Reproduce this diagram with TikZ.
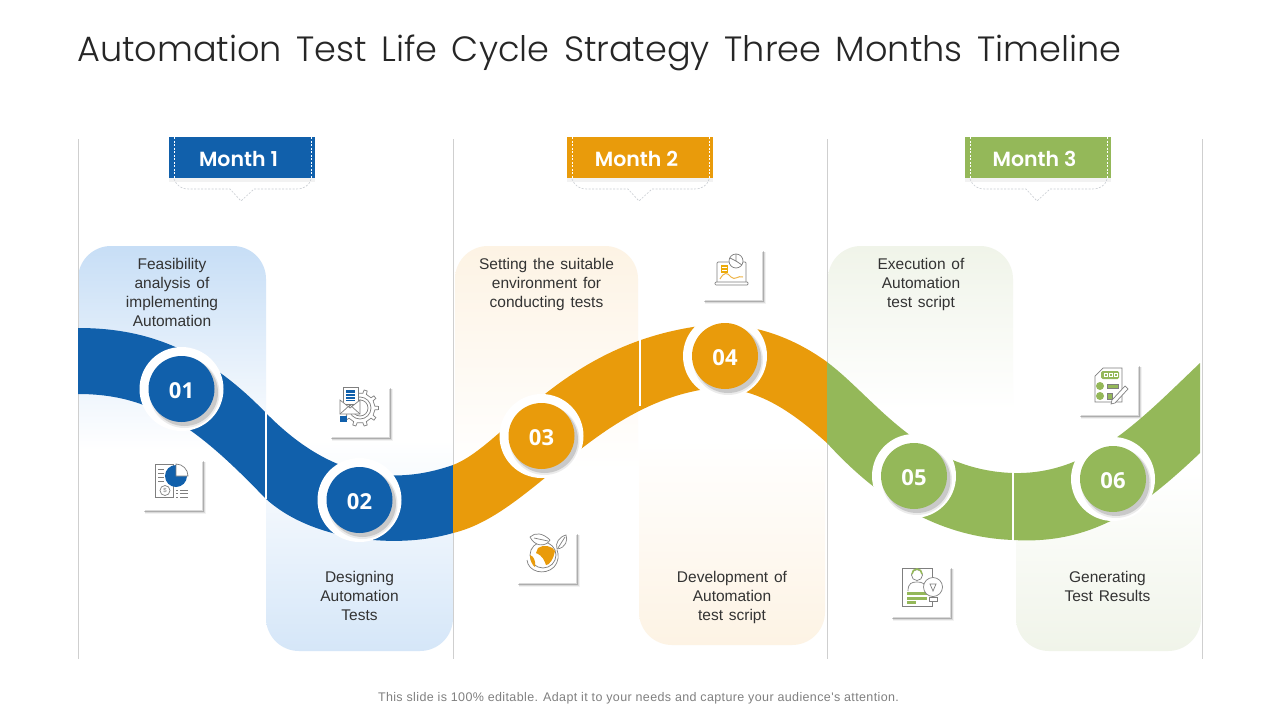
\documentclass[tikz,border=0pt]{standalone}
\usepackage{fontspec}
\setmainfont{Liberation Sans}[WordSpace=1.35]
\newfontfamily\titlefont{Poppins Light}[WordSpace=1.5]
\newfontfamily\monthfont{Poppins}[UprightFont=* SemiBold]
\newfontfamily\numfont{Open Sans}[UprightFont=* Bold]
\newfontfamily\footfont{Liberation Sans}[LetterSpace=3]
\definecolor{mblue}{HTML}{1160AB}
\definecolor{morange}{HTML}{E99B0B}
\definecolor{mgreen}{HTML}{94B859}
\definecolor{pblue}{HTML}{C7DEF6}
\definecolor{porange}{HTML}{FDF3E4}
\definecolor{pgreen}{HTML}{F0F4E9}
\definecolor{rulegray}{HTML}{CFCFCF}
\definecolor{icongray}{HTML}{7F7F7F}
\definecolor{bodytext}{HTML}{333333}
\definecolor{dashgray}{HTML}{C9CDD2}
\tikzset{
  paneltext/.style={align=center,text=bodytext,font=\fontsize{15.5}{19}\selectfont,inner sep=0pt},
  monthtext/.style={text=white,font=\monthfont\fontsize{20.5}{25}\selectfont,inner sep=0pt},
  numtext/.style={text=white,font=\numfont\fontsize{22}{26}\selectfont,inner sep=0pt},
  ic/.style={draw=icongray,line width=0.7pt},
  vrule/.style={draw=rulegray,line width=0.7pt},
  divider/.style={draw=white,line width=1.5pt}
}
\newcommand{\cardbox}[2]{%
  \begin{scope}[shift={(#1,#2)}]
    \fill[white] (0,0)--(50,0)--(60,10)--(60,61)--(0,61)--cycle;
    \draw[black,opacity=.05,line width=4pt] (2,62)--(61,62)--(61,12);
    \draw[black,opacity=.10,line width=2.5pt] (2,61.5)--(60.5,61.5)--(60.5,12);
    \draw[black,opacity=.20,line width=1pt] (1,61)--(60,61)--(60,11);
  \end{scope}}
\newcommand{\disc}[5]{%
  \fill[white] (#2,#3) circle (42);
  \fill[black,opacity=.08] (#2+3,#3+4) circle (35);
  \fill[black,opacity=.14] (#2+3,#3+3.5) circle (33.5);
  \fill[#4] (#2,#3) circle (33);
  \node[numtext] (#1) at (#2,#3+1.5) {#5};}
\newcommand{\monthtab}[4]{%
  \fill[black,opacity=.05] (#2,178) rectangle (#2+146,182);
  \node[fill=#3,minimum width=146pt,minimum height=41pt,inner sep=0pt,outer sep=0pt] (#1) at (#2+73,157.5) {};
  \draw[white,dashed,line width=.6pt,dash pattern=on 2pt off 1.5pt] (#2+5.5,137)--(#2+5.5,178);
  \draw[white,dashed,line width=.6pt,dash pattern=on 2pt off 1.5pt] (#2+142,137)--(#2+142,178);
  \draw[dashgray,line width=.6pt,dash pattern=on 2pt off 1.5pt]
    (#2+5,179) .. controls (#2+8,186) and (#2+12,189) .. (#2+20,189) -- (#2+61,189) -- (#2+72,201) -- (#2+85,189) -- (#2+127,189)
    .. controls (#2+135,189) and (#2+140,186) .. (#2+142,179);
  \node[monthtext] (#1t) at (#2+69.5,159) {#4};}
\begin{document}
\begin{tikzpicture}[x=1pt,y=-1pt]
\useasboundingbox (0,0) rectangle (1280,720);
\fill[white] (0,0) rectangle (1280,720);
% title
\node[anchor=west,inner sep=0pt,font=\titlefont\fontsize{35.1}{40}\selectfont,text=black!85] (title) at (77,53) {Automation Test Life Cycle Strategy Three Months Timeline};
% panels
\shade[top color=pblue,bottom color=white,rounded corners=33pt] (78,450)--(78,246)--(266,246)--(266,450);
\shade[top color=white,bottom color=pblue!75,rounded corners=33pt] (266,440)--(266,651)--(453,651)--(453,440);
\shade[top color=porange,bottom color=white,rounded corners=33pt] (455,470)--(455,246)--(638,246)--(638,470);
\shade[top color=white,bottom color=porange,rounded corners=33pt] (639,440)--(639,645)--(825,645)--(825,440);
\shade[top color=pgreen,bottom color=white,rounded corners=33pt] (828,410)--(828,246)--(1013,246)--(1013,410);
\shade[top color=white,bottom color=pgreen,rounded corners=33pt] (1016,470)--(1016,651)--(1201,651)--(1201,470);
% column rules
\foreach \n/\xx in {r1/78,r2/453,r3/827,r4/1202}{
  \coordinate (\n a) at (\xx,139); \coordinate (\n b) at (\xx,659);
  \draw[vrule] (\n a)--(\n b);}
% ribbons
\fill[mblue] (78,328) .. controls (140,328) and (200,345) .. (265,412) .. controls (310,458) and (370,494) .. (453,465)
  -- (453,533) .. controls (395,550) and (310,540) .. (265,498) .. controls (195,425) and (150,394) .. (78,394) -- cycle;
\fill[morange] (453,465) .. controls (505,445) and (560,345) .. (700,326) .. controls (745,320) and (790,335) .. (827,362)
  -- (827,443) .. controls (790,410) and (750,381) .. (700,390) .. controls (590,410) and (530,515) .. (453,533) -- cycle;
\fill[mgreen] (827,362) .. controls (875,398) and (920,470) .. (1013,473) .. controls (1090,475) and (1140,420) .. (1200,363)
  -- (1200,453) .. controls (1145,505) and (1095,545) .. (1013,540) .. controls (930,537) and (870,490) .. (827,443) -- cycle;
\draw[divider] (266,412)--(266,499);
\draw[divider] (640,336)--(640,406);
\draw[divider] (1013,472)--(1013,541);
% discs
\disc{n1}{181.5}{389}{mblue}{01}
\disc{n2}{359.5}{500}{mblue}{02}
\disc{n3}{541.5}{436}{morange}{03}
\disc{n4}{725}{356}{morange}{04}
\disc{n5}{914}{476}{mgreen}{05}
\disc{n6}{1113}{479}{mgreen}{06}
% month tabs
\monthtab{m1}{169}{mblue}{Month 1}
\monthtab{m2}{567}{morange}{Month 2}
\monthtab{m3}{965}{mgreen}{Month 3}
% panel text
\node[paneltext,anchor=north] (t1) at (172,258) {Feasibility\\analysis of\\implementing\\Automation};
\node[paneltext,anchor=north] (t2) at (359.5,571) {Designing\\Automation\\Tests};
\node[paneltext,anchor=north] (t3) at (546.5,258) {Setting the suitable\\environment for\\conducting tests};
\node[paneltext,anchor=north] (t4) at (732,571) {Development of\\Automation\\test script};
\node[paneltext,anchor=north] (t5) at (921,258) {Execution of\\Automation\\test script};
\node[paneltext,anchor=north] (t6) at (1107.5,571) {Generating\\Test Results};
% cards
\cardbox{143}{450}\cardbox{330}{377}\cardbox{517}{523}\cardbox{703}{240}\cardbox{891}{557}\cardbox{1079}{355}
% icon 1
\draw[ic,fill=white] (155,497)--(155,464)--(173,464)--(173,497)--cycle;
\foreach \yy in {469,473,477,481}{\draw[ic] (158,\yy)--(164,\yy);}
\fill[mblue] (176,476) circle (11);
\draw[ic,fill=white] (176,476)--(176,464) arc (-90:0:12)--cycle;
\draw[ic,fill=white] (165,490.5) circle (5);
\node[inner sep=0pt,text=icongray,font=\fontsize{6}{6}\selectfont] (i1d) at (165,490.5) {\$};
\foreach \yy in {490,493.5,497}{\draw[ic] (176,\yy)--(178,\yy); \draw[ic] (180,\yy)--(188,\yy);}
% icon 2
\begin{scope}[shift={(360,408)}]
\draw[ic,fill=white] (-7:15) \foreach \a in {0,36,...,324}{ -- (\a-7:15) -- (\a-5:18.5) -- (\a+5:18.5) -- (\a+7:15) } -- cycle;
\draw[ic] (0,0) circle (11);
\draw[ic] (0,0) circle (8);
\end{scope}
\draw[ic,fill=white] (343,387)--(358,387)--(358,404)--(343,404)--cycle;
\fill[mblue] (346,390) rectangle (355,401);
\foreach \yy in {393,396,399}{\draw[white,line width=.5pt] (346,\yy)--(355,\yy);}
\draw[ic,fill=white] (340,400)--(340,414)--(360,414)--(360,400)--(350,408)--cycle;
\draw[ic] (340,414)--(350,405)--(360,414);
\fill[mblue] (340,416) rectangle (347,422);
% icon 3
\draw[ic] (527,560) .. controls (528,572) and (545,576) .. (554,567) .. controls (559,561) and (559,555) .. (557,550);
\draw[ic,fill=white] (543,555) circle (13);
\fill[morange] (538,548) .. controls (543,544) and (553,546) .. (555,551) .. controls (554,558) and (549,566) .. (546,565) .. controls (544,560) and (543,556) .. (536,553) -- cycle;
\fill[morange] (530,555) .. controls (534,556) and (536,562) .. (535,567) .. controls (532,565) and (530,560) .. (530,555) -- cycle;
\draw[ic,fill=white] (530,537) .. controls (535,532) and (543,533) .. (550,540) .. controls (546,547) and (535,547) .. (530,537) -- cycle;
\draw[ic] (534,538)--(548,541);
\draw[ic,fill=white] (566,535) .. controls (568,540) and (566,548) .. (557,549) .. controls (555,543) and (559,537) .. (566,535) -- cycle;
\draw[ic] (565,537)--(558,548);
% icon 4
\draw[ic,fill=white,rounded corners=1pt] (717,282)--(717,262)--(746,262)--(746,282);
\draw[ic,fill=white,rounded corners=1pt] (715,282)--(748,282)--(748,285)--(715,285)--cycle;
\fill[morange!85!yellow] (721,265) rectangle (728,273);
\foreach \yy in {267.5,270.5}{\draw[white,line width=.5pt] (722,\yy)--(727,\yy);}
\draw[morange!75,line width=1pt] (720,279) .. controls (724,272) and (727,272) .. (731,277) .. controls (735,281) and (738,275) .. (743,277);
\draw[ic,fill=white] (736,261) circle (7);
\draw[ic] (736,254)--(736,261)--(742,265);
\draw[ic] (736,261)--(730,258);
% icon 5
\draw[ic,fill=white] (902,568)--(932,568)--(932,606)--(902,606)--cycle;
\draw[ic,fill=white] (908,591) .. controls (908,583) and (912,582) .. (917,582) .. controls (922,582) and (926,583) .. (926,591);
\draw[ic,fill=white] (917,575) circle (5.5);
\draw[mgreen,line width=1.6pt] (912,574) arc (180:360:5);
\fill[mgreen] (907,592) rectangle (927,595);
\fill[mgreen] (907,596.5) rectangle (927,599.5);
\fill[mgreen] (907,601) rectangle (916,603.5);
\draw[ic,fill=white] (933,587) circle (9.5);
\draw[ic,fill=white] (929,597)--(937,597)--(937,601)--(929,601)--cycle;
\draw[ic] (930,584)--(933,591)--(936,584)--cycle;
% icon 6
\draw[ic,fill=white] (1103,368)--(1122,368)--(1122,402)--(1095,402)--(1095,376)--cycle;
\fill[mgreen,rounded corners=1.5pt] (1101,371) rectangle (1119,379);
\foreach \xx in {1104,1109,1114}{\draw[white,line width=.5pt] (\xx,373.5) rectangle (\xx+3,376.5);}
\fill[mgreen] (1100,386) circle (4);
\fill[mgreen] (1100,396) circle (4);
\draw[ic,fill=mgreen] (1107,384) rectangle (1118,388);
\draw[ic,fill=mgreen] (1107,393) rectangle (1112,399);
\draw[ic,fill=white] (1112,400)--(1111,404)--(1115,403)--(1128,389)--(1125,386)--cycle;
% footer
\node[inner sep=0pt,text=black!50,font=\footfont\fontsize{12.5}{15}\selectfont] (foot) at (638.5,698) {This slide is 100\% editable. Adapt it to your needs and capture your audience's attention.};
\end{tikzpicture}
\end{document}
